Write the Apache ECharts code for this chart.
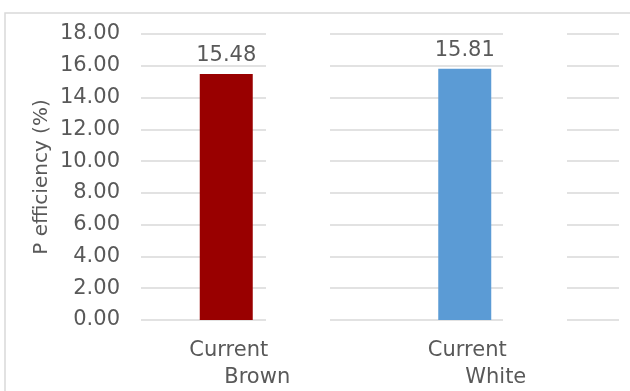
<!DOCTYPE html>
<html>
<head>
<meta charset="utf-8">
<script src="https://cdn.jsdelivr.net/npm/echarts@6/dist/echarts.min.js"></script>
<style>
  html, body { margin: 0; padding: 0; background: #fff; }
  #chart { width: 630px; height: 391px; }
</style>
</head>
<body>
<div id="chart"></div>
<script>
// Phosphorus efficiency per scenario
const categories = ['Current Brown', 'Current White'];
const efficiency = [15.48, 15.81];
const barColors = ['#990000', '#5b9bd5'];
const yMin = 0, yMax = 18, yStep = 2;
const yTitle = 'P efficiency (%)';

const FONT = '"DejaVu Sans", Verdana, sans-serif';
const TEXT = '#595959';
const GRID_LINE = '#d9d9d9';
const TOP = 34, BOTTOM = 71;

// gridline segments (left, right offsets in px)
const segments = [[141, 630 - 266], [330, 630 - 503], [567, 630 - 619]];

const grids = [{ left: 107, right: 46, top: TOP, bottom: BOTTOM }];
const xAxes = [{
  type: 'category', gridIndex: 0, data: categories,
  axisLine: { show: false }, axisTick: { show: false },
  axisLabel: {
    margin: 17, color: TEXT, fontFamily: FONT, fontSize: 21, lineHeight: 27,
    formatter: v => { const p = v.split(' '); return '{a|' + p[0] + '}\n{b|' + p[1] + '}'; },
    rich: {
      a: { fontSize: 21, fontFamily: FONT, color: TEXT, lineHeight: 27, padding: [0, 0, 0, 5] },
      b: { fontSize: 21, fontFamily: FONT, color: TEXT, lineHeight: 27, padding: [0, 0, 0, 62] }
    }
  }
}];
const yAxes = [{
  type: 'value', gridIndex: 0, min: yMin, max: yMax, interval: yStep,
  axisLabel: { show: false }, splitLine: { show: false },
  axisLine: { show: false }, axisTick: { show: false }
}];

segments.forEach((s, i) => {
  const gi = i + 1;
  grids.push({ left: s[0], right: s[1], top: TOP, bottom: BOTTOM });
  xAxes.push({ type: 'value', gridIndex: gi, show: false, min: 0, max: 1 });
  yAxes.push({
    type: 'value', gridIndex: gi, min: yMin, max: yMax, interval: yStep,
    axisLine: { show: false }, axisTick: { show: false },
    splitLine: { show: true, lineStyle: { color: GRID_LINE, width: 1.5 } },
    axisLabel: gi === 1
      ? { show: true, margin: 21, color: TEXT, fontFamily: FONT, fontSize: 21, formatter: v => v.toFixed(2) }
      : { show: false },
    name: gi === 1 ? yTitle : '',
    nameLocation: 'middle', nameGap: 89, nameRotate: 90,
    nameTextStyle: { color: TEXT, fontFamily: FONT, fontSize: 20 }
  });
});

const chart = echarts.init(document.getElementById('chart'), null, { renderer: 'canvas' });
chart.setOption({
  animation: false,
  backgroundColor: '#ffffff',
  graphic: [{
    type: 'rect', z: -10, silent: true,
    shape: { x: 5, y: 13, width: 800, height: 600 },
    style: { fill: 'none', stroke: GRID_LINE, lineWidth: 1.5 }
  }],
  grid: grids,
  xAxis: xAxes,
  yAxis: yAxes,
  series: [{
    type: 'bar', xAxisIndex: 0, yAxisIndex: 0, z: 5,
    barWidth: 53,
    data: efficiency.map((v, i) => ({ value: v, itemStyle: { color: barColors[i] } })),
    label: {
      show: true, position: 'top', distance: 8,
      color: TEXT, fontFamily: FONT, fontSize: 21,
      formatter: p => p.value.toFixed(2)
    }
  }]
});
</script>
</body>
</html>
